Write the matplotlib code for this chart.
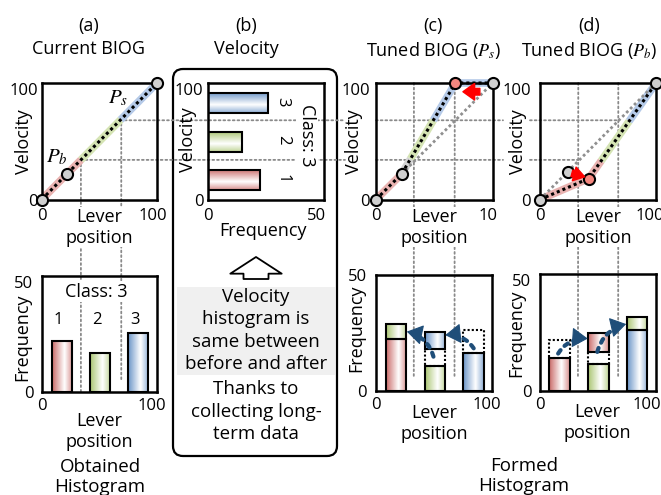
import numpy as np
import matplotlib
matplotlib.use("Agg")
import matplotlib.pyplot as plt
from matplotlib.patches import Rectangle, FancyBboxPatch, ConnectionPatch, FancyArrowPatch
from matplotlib.colors import to_rgb
from matplotlib.transforms import Bbox, blended_transform_factory, ScaledTranslation

plt.rcParams['font.family'] = ['Open Sans', 'DejaVu Sans']
plt.rcParams['mathtext.fontset'] = 'stix'

# ---------------- data ----------------
class_labels = ['1', '2', '3']
lever_ticks = [0, 100]
lever_ticklabels = ['0', '100']
vel_ticks = [0, 100]
vel_ticklabels = ['0', '100']
freq_ticks = [0, 50]
freq_ticklabels = ['0', '50']

# (a) current BIOG (lever position -> velocity)
cur_lever = [0, 22, 100]
cur_vel = [0, 22, 100]
# (b) velocity histogram
vel_class_center = [16.5, 49.6, 82.6]
vel_class_height = 17.2
vel_freq = [23.8, 15.5, 27.7]
# obtained histogram over lever position
lever_class_center = [17.3, 50.5, 83.8]
lever_class_width = 17.5
obtained_freq = [21.8, 16.8, 25.4]
# (c) tuned BIOG (P_s moved)
ps_lever = [0, 22, 68, 100]
ps_vel = [0, 22, 100, 100]
# (d) tuned BIOG (P_b moved)
pb_lever = [0, 42, 100]
pb_vel = [0, 18, 100]
pb_old_lever = [0, 24, 100]
pb_old_vel = [0, 24, 100]
# formed histograms: own-class part, removed part (dotted), part added from neighbour
formed_s_base = [22.3, 10.8, 16.5]
formed_s_removed = [0.0, 7.2, 9.8]
formed_s_added = [6.6, 7.6, 0.0]
formed_s_added_cls = [1, 2, 2]
formed_b_base = [14.1, 11.4, 26.0]
formed_b_removed = [7.9, 5.3, 0.0]
formed_b_added = [0.0, 8.2, 5.7]
formed_b_added_cls = [0, 0, 1]
# moves of frequency between classes (from -> to) in formed histograms
moves_s = [((49.4, 14.8), (26.5, 25.6)), ((84.0, 18.4), (59.5, 24.1))]
moves_b = [((16.0, 16.0), (41.4, 22.4)), ((49.6, 16.7), (74.4, 28.6))]

# class boundaries used for colouring and projection guides
thr_vel = [34, 68]
thr_a = [34, 69]
thr_c = [32.5, 67.5]
thr_d = [33, 67.5]
guide_end_a = [0, 4.4]
guide_end_c = [5.5, 6.2]
guide_end_d = [5.5, 5.5]
breaks_a = [34, 68.5]
breaks_c = [22, 35, 68]
breaks_d = [33, 67]

CLS = ['#c0504d', '#9bbb59', '#4f81bd']
HL = ['#e9b3b1', '#d5e4b4', '#b5cae8']
GRAYHL = '#d4d4d4'
GUIDE = dict(color='#8a8a8a', lw=1.3, linestyle=(0, (1, 1.6)))
ARROWBLUE = '#1f4e79'

W, H = 661, 495
fig = plt.figure(figsize=(W / 100, H / 100), dpi=100)
ov = fig.add_axes([0, 0, 1, 1], zorder=0)
ov.set_xlim(0, W)
ov.set_ylim(H, 0)
ov.axis('off')


def px_axes(x0, y0, x1, y1):
    ax = fig.add_axes([x0 / W, 1 - y1 / H, (x1 - x0) / W, (y1 - y0) / H], zorder=2)
    ax.set_facecolor('none')
    for sp in ax.spines.values():
        sp.set_linewidth(1.8)
        sp.set_zorder(6)
    ax.tick_params(length=0, labelsize=12)
    return ax


axA = px_axes(41.7, 83, 157, 199.5)
axB = px_axes(208.3, 83, 324, 199.5)
axC = px_axes(376, 83, 492.7, 199.5)
axD = px_axes(540, 83, 656, 199.5)
axAb = px_axes(41.7, 276, 157, 392)
axCb = px_axes(376, 275, 492.3, 391)
axDb = px_axes(539.5, 274, 656, 391)


def grad_rect(ax, x0, x1, y0, y1, color, along='x', z=4):
    t = np.linspace(0, 1, 100)
    w = np.where(t < 0.6, 1 - t / 0.6, 0.75 * (t - 0.6) / 0.4)
    c = np.array(to_rgb(color))
    rgb = 1 - (0.85 * w)[:, None] * (1 - c)[None, :]
    img = rgb[None, :, :] if along == 'x' else rgb[:, None, :]
    ax.imshow(img, extent=(x0, x1, y0, y1), origin='upper', aspect='auto',
              interpolation='bilinear', zorder=z)
    ax.add_patch(Rectangle((x0, y0), x1 - x0, y1 - y0, fc='none', ec='black',
                           lw=1.5, zorder=z + 0.5))


def colored_path(ax, xs, ys, breaks, colors, lw=5.5):
    px, py = [], []
    for i in range(len(xs) - 1):
        t = np.linspace(0, 1, 200, endpoint=False)
        px.extend(xs[i] + (xs[i + 1] - xs[i]) * t)
        py.extend(ys[i] + (ys[i + 1] - ys[i]) * t)
    px.append(xs[-1]); py.append(ys[-1])
    px, py = np.array(px), np.array(py)
    mid = (py[:-1] + py[1:]) / 2
    cls = np.digitize(mid, breaks)
    start = 0
    for k in range(1, len(cls) + 1):
        if k == len(cls) or cls[k] != cls[start]:
            ax.plot(px[start:k + 1], py[start:k + 1], color=colors[cls[start]], lw=lw,
                    solid_capstyle='butt', zorder=2, clip_on=False)
            start = k


def marker(ax, x, y, fc='#cfcfcf'):
    ax.plot(x, y, 'o', ms=8, mfc=fc, mec='black', mew=1.5, zorder=8, clip_on=False)


def black_dots(ax, xs, ys):
    ax.plot(xs, ys, color='black', lw=2.2, ls=(0, (1, 1)), zorder=4, clip_on=False)


def gray_dots(ax, xs, ys):
    ax.plot(xs, ys, color='#8f8f8f', lw=2.0, ls=(0, (1, 1)), zorder=3, clip_on=False)


def shift_label(lbl, dx):
    lbl.set_transform(lbl.get_transform() + ScaledTranslation(dx / 100, 0, fig.dpi_scale_trans))


# ---------- top row: BIOG curves ----------
for ax, ypad in ((axA, 2.5), (axC, 4.5), (axD, 6.5)):
    ax.set_xlim(0, 100); ax.set_ylim(0, 100)
    ax.set_xticks(lever_ticks, lever_ticklabels)
    ax.set_yticks(vel_ticks, vel_ticklabels)
    ax.tick_params(axis='x', pad=6.3)
    ax.tick_params(axis='y', pad=ypad)
    ax.yaxis.get_major_ticks()[1].label1.set_va('top')
    ax.set_xlabel('Lever\nposition', fontsize=13)
    ax.xaxis.set_label_coords(0.5, -0.071)
    ax.xaxis.label.set_bbox(dict(fc='white', ec='none', pad=0.5))
    ax.set_ylabel('Velocity', fontsize=13)

axA.yaxis.set_label_coords(-0.073, 0.494)
axC.yaxis.set_label_coords(-0.109, 0.496)
axD.yaxis.set_label_coords(-0.115, 0.496)

# (a)
colored_path(axA, cur_lever, cur_vel, breaks_a, HL)
black_dots(axA, cur_lever, cur_vel)
for x, y in zip(cur_lever, cur_vel):
    marker(axA, x, y)
axA.text(66, 87, '$P_s$', fontsize=15, ha='center', va='center', zorder=9)
axA.text(13.5, 37, '$P_b$', fontsize=15, ha='center', va='center', zorder=9)

# (c)
colored_path(axC, ps_lever, ps_vel, breaks_c, [HL[0], GRAYHL, HL[1], HL[2]])
gray_dots(axC, cur_lever[1:], cur_vel[1:])
black_dots(axC, ps_lever, ps_vel)
for i, (x, y) in enumerate(zip(ps_lever, ps_vel)):
    marker(axC, x, y, '#f4877f' if i == 2 else '#cfcfcf')
axC.add_patch(FancyArrowPatch((89, 92.5), (74.5, 92.5),
                              arrowstyle='simple,head_length=0.7,head_width=1.0,tail_width=0.4',
                              mutation_scale=12, color='#ff0000', zorder=9, shrinkA=0, shrinkB=0))

# (d)
colored_path(axD, pb_lever, pb_vel, breaks_d, HL)
gray_dots(axD, pb_old_lever, pb_old_vel)
black_dots(axD, pb_lever, pb_vel)
marker(axD, pb_old_lever[1], pb_old_vel[1])
for i, (x, y) in enumerate(zip(pb_lever, pb_vel)):
    marker(axD, x, y, '#f4877f' if i == 1 else '#cfcfcf')
axD.add_patch(FancyArrowPatch((27.5, 22.5), (38.5, 19.5),
                              arrowstyle='simple,head_length=0.65,head_width=0.85,tail_width=0.4',
                              mutation_scale=12, color='#ff0000', zorder=9, shrinkA=0, shrinkB=0))

# ---------- (b) velocity histogram ----------
axB.set_xlim(0, 53.5); axB.set_ylim(0, 100)
axB.set_xticks(freq_ticks, freq_ticklabels)
axB.set_yticks(vel_ticks, vel_ticklabels)
axB.tick_params(axis='x', pad=6.3)
axB.tick_params(axis='y', pad=3.5)
axB.yaxis.get_major_ticks()[1].label1.set_va('top')
for i in range(3):
    grad_rect(axB, 0, vel_freq[i], vel_class_center[i] - vel_class_height / 2,
              vel_class_center[i] + vel_class_height / 2, CLS[i], along='y')
    axB.text(34.4, vel_class_center[i] + 1.5, class_labels[i], rotation=-90, fontsize=12,
             ha='center', va='center', zorder=9)
axB.text(45.5, 55, 'Class: 3', rotation=-90, fontsize=13, ha='center', va='center', zorder=9,
         bbox=dict(fc='white', ec='none', pad=1.5))
axB.set_xlim(0, 53.5); axB.set_ylim(0, 100)
axB.set_ylabel('Velocity', fontsize=13)
axB.yaxis.set_label_coords(-0.1, 0.51)
axB.set_xlabel('Frequency', fontsize=13)
axB.xaxis.set_label_coords(0.473, -0.197)

# ---------- bottom row: histograms ----------
for ax, ypad in ((axAb, 6.0), (axCb, 6.7), (axDb, 5.8)):
    ax.set_xlim(0, 100); ax.set_ylim(0, 50)
    ax.set_xticks(lever_ticks, lever_ticklabels)
    ax.set_yticks(freq_ticks, freq_ticklabels)
    ax.tick_params(axis='x', pad=4.3)
    ax.tick_params(axis='y', pad=ypad)
    ax.set_xlabel('Lever\nposition', fontsize=13)
    ax.set_ylabel('Frequency', fontsize=13)
    ax.yaxis.label.set_bbox(dict(fc='white', ec='none', pad=0.5))

axAb.yaxis.get_major_ticks()[1].label1.set_va('top')
axDb.yaxis.get_major_ticks()[1].label1.set_va('top')
axAb.xaxis.set_label_coords(0.5, -0.175)
axCb.xaxis.set_label_coords(0.5, -0.115)
axDb.xaxis.set_label_coords(0.5, -0.103)
axAb.yaxis.set_label_coords(-0.087, 0.475)
axCb.yaxis.set_label_coords(-0.095, 0.545)
axDb.yaxis.set_label_coords(-0.124, 0.495)

w2 = lever_class_width / 2
for i in range(3):
    xc = lever_class_center[i]
    grad_rect(axAb, xc - w2, xc + w2, 0, obtained_freq[i], CLS[i])
    axAb.text(xc - 3, 31, class_labels[i], fontsize=12, ha='center', va='center', zorder=9)
axAb.text(47.7, 43.2, 'Class: 3', fontsize=13, ha='center', va='center', zorder=9,
          bbox=dict(fc='white', ec='none', pad=1.0))


def stack_bar(ax, xc, base, base_cls, removed, added, added_cls):
    y = 0
    grad_rect(ax, xc - w2, xc + w2, y, y + base, CLS[base_cls])
    y += base
    if removed > 0:
        ax.add_patch(Rectangle((xc - w2, y), 2 * w2, removed, fc='white', ec='black',
                               lw=1.5, ls=(0, (1, 1)), zorder=4))
        y += removed
    if added > 0:
        grad_rect(ax, xc - w2, xc + w2, y, y + added, CLS[added_cls])


for i in range(3):
    stack_bar(axCb, lever_class_center[i], formed_s_base[i], i, formed_s_removed[i],
              formed_s_added[i], formed_s_added_cls[i])
    stack_bar(axDb, lever_class_center[i], formed_b_base[i], i, formed_b_removed[i],
              formed_b_added[i], formed_b_added_cls[i])

for ax in (axAb, axCb, axDb):
    ax.set_xlim(0, 100); ax.set_ylim(0, 50)


def dot_arrow(ax, p0, p1, rad):
    ax.add_patch(FancyArrowPatch(p0, p1, arrowstyle='-', connectionstyle=f'arc3,rad={rad}',
                                 color=ARROWBLUE, lw=3.0, ls=(0, (1, 1.4)), zorder=9,
                                 shrinkA=0, shrinkB=6))
    T = ax.transData
    a = np.array(T.transform(p0)); b = np.array(T.transform(p1))
    d = b - a
    ctrl = (a + b) / 2 + rad * np.array([d[1], -d[0]])
    u = (b - ctrl) / np.linalg.norm(b - ctrl)
    q = T.inverted().transform(b - 10 * u)
    ax.add_patch(FancyArrowPatch(tuple(q), p1, arrowstyle='-|>,head_length=0.5,head_width=0.32',
                                 mutation_scale=20, color=ARROWBLUE, lw=0.8, zorder=9.5,
                                 shrinkA=0, shrinkB=0))


for p0, p1 in moves_s:
    dot_arrow(axCb, p0, p1, 0.3)
for p0, p1 in moves_b:
    dot_arrow(axDb, p0, p1, -0.3)

# ---------- tick label fine positions ----------
shift_label(axA.xaxis.get_major_ticks()[1].label1, -4)
shift_label(axD.xaxis.get_major_ticks()[1].label1, -6)
shift_label(axAb.xaxis.get_major_ticks()[1].label1, -5)
shift_label(axCb.xaxis.get_major_ticks()[1].label1, -5)
shift_label(axDb.xaxis.get_major_ticks()[1].label1, -9)
lab_c = axC.xaxis.get_major_ticks()[1].label1
lab_c.set_clip_on(True)
lab_c.set_clip_box(Bbox.from_extents(0, 0, 497, H))

# ---------- projection guides ----------
def link(pA, trA, pB, trB):
    con = ConnectionPatch(xyA=pA, coordsA=trA, xyB=pB, coordsB=trB, **GUIDE)
    con.set_clip_on(False)
    con.set_zorder(1)
    ov.add_artist(con)


bC = blended_transform_factory(ov.transData, axC.transData)
bD = blended_transform_factory(ov.transData, axD.transData)
for yv, xd in zip(thr_vel, thr_d):
    link((yv, yv), axA.transData, (345, yv), bC)
    link((0, yv), axC.transData, (503, yv), bC)
    link((530, yv), bD, (xd, yv), axD.transData)
for xv, ye in zip(thr_a, guide_end_a):
    link((xv, xv), axA.transData, (xv, ye), axAb.transData)
for xv, ye in zip(thr_c, guide_end_c):
    link((xv, 100), axC.transData, (xv, ye), axCb.transData)
for xv, ye in zip(thr_d, guide_end_d):
    link((xv, 100), axD.transData, (xv, ye), axDb.transData)

# ---------- (b) frame and notes ----------
ov.add_patch(FancyBboxPatch((173, 69), 164, 387, boxstyle='round,pad=0,rounding_size=10',
                            fc='none', ec='black', lw=1.6, zorder=0.5))
ov.add_patch(Rectangle((177, 286.7), 158, 88.5, fc='#f0f0f0', ec='none', zorder=1.5))
note1 = ov.text(256, 287.7, 'Velocity\nhistogram is\nsame between\nbefore and after\ntuning',
                ha='center', va='top', fontsize=13.5, linespacing=1.32, zorder=2)
note1.set_clip_on(True)
note1.set_clip_box(Bbox.from_extents(0, H - 378.5, W, H))
ov.text(256, 380.5, 'Thanks to\ncollecting long-\nterm data', ha='center', va='top',
        fontsize=13.5, linespacing=1.32, zorder=4)
ov.add_patch(FancyArrowPatch((256, 279), (256, 257),
                             arrowstyle='simple,head_length=0.6,head_width=1.85,tail_width=0.9',
                             mutation_scale=20, fc='white', ec='black', lw=1.3,
                             shrinkA=0, shrinkB=0, zorder=4))

# ---------- titles ----------
TS = 13
ov.text(89, 17.5, '(a)\nCurrent BIOG', ha='center', va='top', fontsize=TS, linespacing=1.3)
ov.text(246, 17.5, '(b)\nVelocity', ha='center', va='top', fontsize=TS, linespacing=1.3)
ov.text(433, 17.5, '(c)\nTuned BIOG ($P_s$)', ha='center', va='top', fontsize=TS, linespacing=1.3)
ov.text(589, 17.5, '(d)\nTuned BIOG ($P_b$)', ha='center', va='top', fontsize=TS, linespacing=1.3)
ov.text(100, 458.5, 'Obtained\nHistogram', ha='center', va='top', fontsize=13.5, linespacing=1.11)
ov.text(524, 457, 'Formed\nHistogram', ha='center', va='top', fontsize=13.5, linespacing=1.11)

fig.savefig('out.png', dpi=100)
